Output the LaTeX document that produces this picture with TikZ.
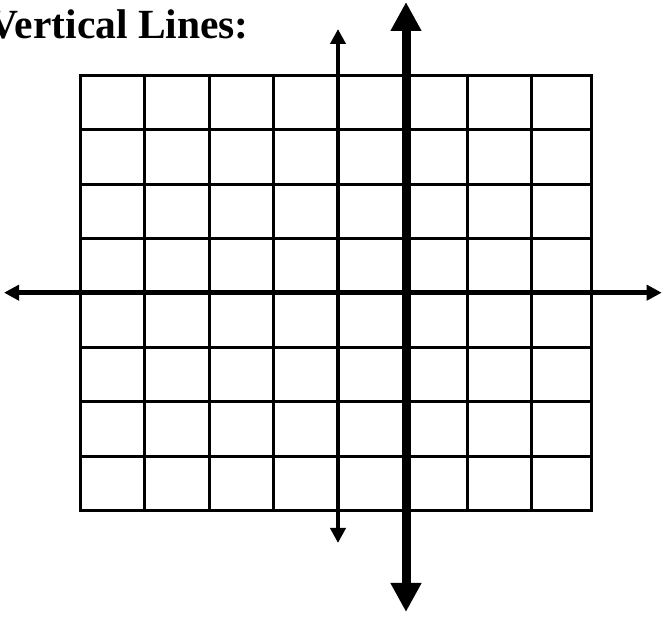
\documentclass[tikz,border=0pt]{standalone}
\usepackage{fontspec}
\setmainfont{Liberation Serif}
\usetikzlibrary{arrows.meta}

\begin{document}
\begin{tikzpicture}[
    x=1pt,
    y=-1pt,
    gridline/.style={
        line width=3pt,
        line cap=rect
    },
    haxis/.style={
        line width=5pt,
        {Triangle[length=15pt,width=15pt]}-{Triangle[length=15pt,width=15pt]}
    },
    thinaxis/.style={
        line width=4pt,
        {Triangle[length=15pt,width=15pt]}-{Triangle[length=15pt,width=15pt]}
    },
    thickaxis/.style={
        line width=9pt,
        {Triangle[length=29pt,width=29pt]}-{Triangle[length=29pt,width=29pt]}
    }
]

\useasboundingbox (0,0) rectangle (662,617);

\node[
    anchor=base east,
    inner sep=0pt,
    font=\fontsize{41.5}{46}\selectfont\bfseries
] (title) at (249,39) {Vertical Lines:};

\foreach \gx in {80,144.3,209,273,338,403,467,531,591}
    \draw[gridline] (\gx,75.3) -- (\gx,510.7);
\foreach \gy in {0,...,8}
    \draw[gridline] (80,75.3+54.425*\gy) -- (591,75.3+54.425*\gy);

\coordinate (xleft) at (4,292.7);
\coordinate (xright) at (661.7,292.7);
\coordinate (thintop) at (338,29);
\coordinate (thinbot) at (338,543);
\coordinate (thicktop) at (406,2);
\coordinate (thickbot) at (406,612);

\draw[haxis] (xleft) -- (xright);
\draw[thinaxis] (thintop) -- (thinbot);
\draw[thickaxis] (thicktop) -- (thickbot);

\end{tikzpicture}
\end{document}
